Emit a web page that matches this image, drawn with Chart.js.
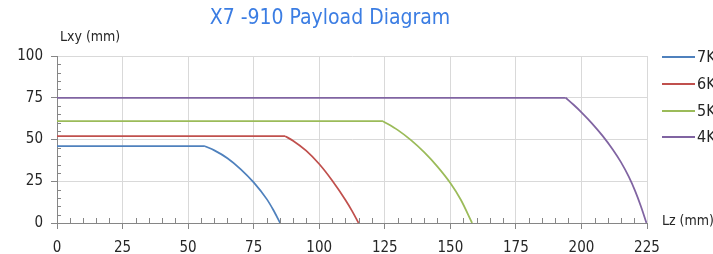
<!DOCTYPE html>
<html>
<head>
<meta charset="utf-8">
<script src="https://cdn.jsdelivr.net/npm/chart.js@4.4.1/dist/chart.umd.min.js"></script>
<style>
  html, body { margin: 0; padding: 0; background: #fff; overflow: hidden; }
  #wrap { position: relative; width: 713px; height: 254px; }
</style>
</head>
<body>
<div id="wrap"><canvas id="chart" width="713" height="254"></canvas></div>
<script>
// X7-910 payload diagram — Lz (x) vs Lxy (y), one curve per payload mass
const seriesNames = ["7Kg", "6Kg", "5Kg", "4Kg"];
const seriesColors = ["#4F81BD", "#C0504D", "#9BBB59", "#8064A2"];

const kg7X = [0, 56.4, 60, 65, 70, 75, 80, 82.5, 85.1];
const kg7Y = [46, 46, 43.5, 38.8, 32.3, 24.3, 14.3, 7.8, 0];

const kg6X = [0, 87, 90, 95, 100, 105, 110, 112.5, 115];
const kg6Y = [52, 52, 49.3, 43.3, 35.3, 25.3, 13.8, 7.3, 0];

const kg5X = [0, 124.3, 130, 135, 140, 145, 150, 154, 158.3];
const kg5Y = [61, 61, 55.6, 49.6, 42.4, 33.9, 23.9, 13.9, 0];

const kg4X = [0, 194, 197, 200, 204, 208, 212, 215, 218, 220.5, 222.7, 224.8];
const kg4Y = [75, 75, 70.8, 66.3, 59.7, 52.3, 43.9, 36.6, 27.9, 19.1, 9.9, 0];

const xTicks = [0, 25, 50, 75, 100, 125, 150, 175, 200, 225];
const yTicks = [0, 25, 50, 75, 100];

const FONT = "'Liberation Sans Narrow', 'DejaVu Sans Condensed', 'Open Sans', sans-serif";
const AXIS = "#868686";
const GRID = "#D9D9D9";
const TEXT = "#262626";

const seriesX = [kg7X, kg6X, kg5X, kg4X];
const seriesY = [kg7Y, kg6Y, kg5Y, kg4Y];

const pts = (xs, ys) => xs.map((x, i) => ({ x, y: ys[i] }));

// flat part (straight) + falloff part (smooth), so the corner stays sharp
const datasets = [];
seriesX.forEach((xs, i) => {
  const all = pts(xs, seriesY[i]);
  const base = { borderColor: seriesColors[i], borderWidth: 1.75, pointRadius: 0, fill: false };
  datasets.push({ ...base, label: seriesNames[i], data: all.slice(0, 2), tension: 0 });
  datasets.push({ ...base, label: seriesNames[i] + " arc", data: all.slice(1), cubicInterpolationMode: "monotone" });
});

const decor = {
  id: "decor",
  afterDraw(chart) {
    const { ctx, scales: { x, y } } = chart;
    ctx.save();
    // minor ticks
    ctx.strokeStyle = AXIS;
    ctx.lineWidth = 1;
    ctx.beginPath();
    for (let v = 5; v < 225; v += 5) {
      if (v % 25 === 0) continue;
      const px = Math.round(x.getPixelForValue(v)) + 0.5;
      ctx.moveTo(px, y.bottom);
      ctx.lineTo(px, y.bottom - 5);
    }
    for (let v = 5; v < 100; v += 5) {
      if (v % 25 === 0) continue;
      const py = Math.round(y.getPixelForValue(v)) + 0.5;
      ctx.moveTo(x.left, py);
      ctx.lineTo(x.left + 4, py);
    }
    ctx.stroke();

    // title
    ctx.fillStyle = "#3B7DE3";
    ctx.font = "21px " + FONT;
    ctx.textAlign = "center";
    ctx.textBaseline = "middle";
    ctx.fillText("X7 -910 Payload Diagram", 330, 19);

    // axis titles
    ctx.fillStyle = TEXT;
    ctx.font = "14px " + FONT;
    ctx.textAlign = "left";
    ctx.fillText("Lxy (mm)", 60, 37);
    ctx.fillText("Lz (mm)", 662, 221);

    // legend
    const rows = [57, 84, 111, 137];
    seriesNames.forEach((name, i) => {
      ctx.strokeStyle = seriesColors[i];
      ctx.lineWidth = 2;
      ctx.beginPath();
      ctx.moveTo(662, rows[i]);
      ctx.lineTo(695, rows[i]);
      ctx.stroke();
      ctx.fillStyle = TEXT;
      ctx.font = "16px " + FONT;
      ctx.fillText(name, 697, rows[i] + 1);
    });
    ctx.restore();
  }
};

new Chart(document.getElementById("chart"), {
  type: "line",
  data: { datasets },
  plugins: [decor],
  options: {
    responsive: false,
    animation: false,
    layout: { padding: { top: 56, right: 66, left: 0, bottom: 0 } },
    plugins: { legend: { display: false }, title: { display: false }, tooltip: { enabled: false } },
    scales: {
      x: {
        type: "linear", min: 0, max: 225,
        afterBuildTicks: (s) => { s.ticks = xTicks.map(v => ({ value: v })); },
        afterFit: (s) => { s.height = 31; },
        grid: { color: GRID, tickColor: AXIS, tickLength: 6, drawTicks: true },
        border: { color: AXIS, width: 1 },
        ticks: { color: TEXT, font: { family: FONT, size: 15 }, padding: 10, maxRotation: 0 }
      },
      y: {
        type: "linear", min: 0, max: 100,
        afterBuildTicks: (s) => { s.ticks = yTicks.map(v => ({ value: v })); },
        afterFit: (s) => { s.width = 57; },
        grid: { color: GRID, tickColor: AXIS, tickLength: 6, drawTicks: true },
        border: { color: AXIS, width: 1 },
        ticks: { color: TEXT, font: { family: FONT, size: 15 }, padding: 8 }
      }
    }
  }
});
</script>
</body>
</html>
